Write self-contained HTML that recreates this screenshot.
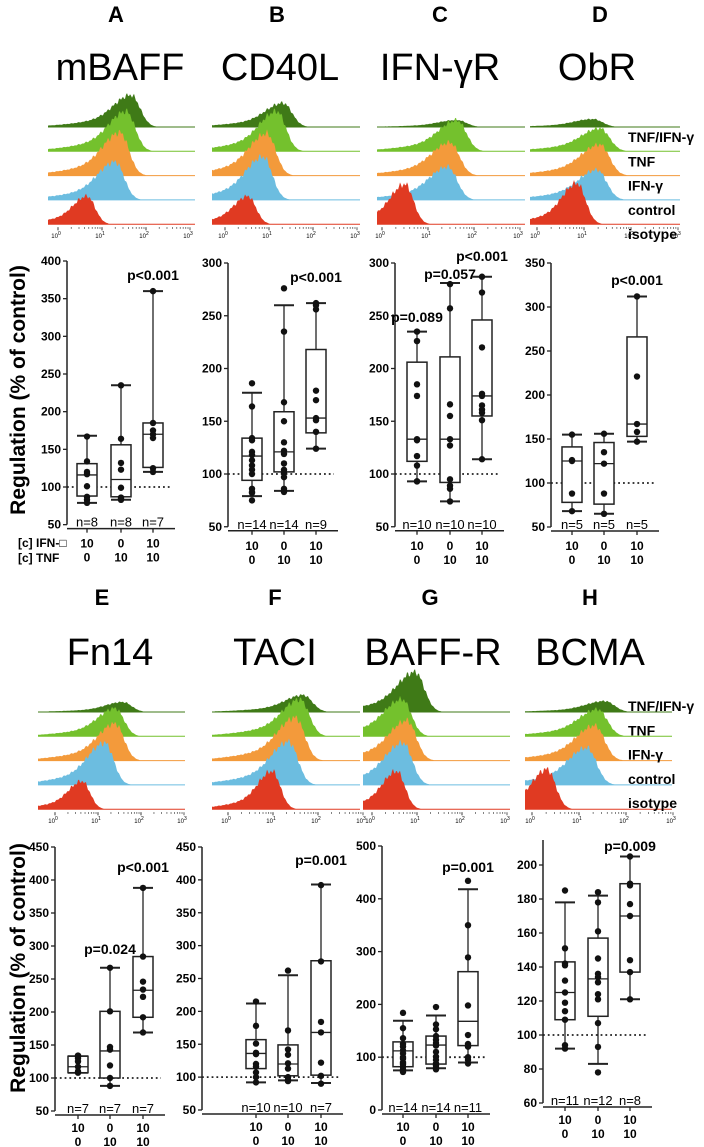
<!DOCTYPE html>
<html><head><meta charset="utf-8">
<style>
html,body{margin:0;padding:0;background:#fff;}
svg{display:block;}
text{font-family:"Liberation Sans",Arial,sans-serif;}
</style></head>
<body>
<svg id="fig" width="704" height="1147" viewBox="0 0 704 1147" xmlns="http://www.w3.org/2000/svg"></svg>
<script>
// ---------- DATA ----------
const panelLetters = ["A","B","C","D","E","F","G","H"];
const markerNames = ["mBAFF","CD40L","IFN-\u03B3R","ObR","Fn14","TACI","BAFF-R","BCMA"];
const conditionIFN = ["10","0","10"];
const conditionTNF = ["0","10","10"];
const histLabels = ["TNF/IFN-\u03B3","TNF","IFN-\u03B3","control","isotype"];

// box stats per panel: [whiskerLow, q1, median, q3, whiskerHigh]
const statsA = [[79,88,116,131,168],[83,87,110,156,235],[120,126,170,185,360]];
const statsB = [[79,94,117,134,177],[84,102,121,159,260],[124,139,153,218,262]];
const statsC = [[93,112,133,206,235],[74,92,133,211,281],[114,155,174,246,287]];
const statsD = [[68,78,125,141,155],[65,76,122,146,156],[147,153,167,266,312]];
const statsE = [[108,108,117,133,133],[88,100,141,201,267],[169,192,233,284,388]];
const statsF = [[92,113,136,157,212],[95,102,120,149,255],[91,103,168,277,393]];
const statsG = [[75,82,112,129,169],[79,87,123,140,179],[90,122,168,262,418]];
const statsH = [[92,109,125,143,178],[83,111,133,157,182],[121,137,170,189,205]];

const pointsA = [[167,134,120,117,101,87,83,79],[235,164,132,123,99,86,84,83],[360,185,175,170,165,125,120]];
const pointsB = [[186,164,134,132,121,118,113,108,104,100,86,83,82,75],[276,235,168,150,130,122,119,110,104,101,97,86,84,83],[262,256,179,170,153,151,140,124,260]];
const pointsC = [[235,226,185,174,133,132,117,108,93,93],[280,257,166,155,133,127,95,89,86,74],[287,272,220,176,174,165,161,158,151,114]];
const pointsD = [[155,126,125,88,68],[156,135,122,88,65],[312,221,167,158,147]];
const pointsE = [[134,133,130,125,117,110,108],[267,201,147,143,119,100,88],[388,284,246,234,223,192,169]];
const pointsF = [[215,178,151,137,135,120,116,107,100,92],[262,171,142,134,121,113,100,96,95,94],[392,276,184,168,122,102,90]];
const pointsG = [[184,155,136,125,120,113,107,100,97,90,87,82,77,72],[195,162,153,140,133,127,122,110,101,95,88,84,80,77],[434,350,289,198,142,125,122,120,100,95,88]];
const pointsH = [[185,151,142,141,132,125,119,114,109,94,92],[184,178,161,145,136,134,131,124,121,107,93,78],[205,189,188,177,170,144,137,121]];

const nA=[8,8,7], nB=[14,14,9], nC=[10,10,10], nD=[5,5,5], nE=[7,7,7], nF=[10,10,7], nG=[14,14,11], nH=[11,12,8];

const pvalA=[null,null,"p<0.001"], pvalB=[null,null,"p<0.001"], pvalC=["p=0.089","p=0.057","p<0.001"], pvalD=[null,null,"p<0.001"];
const pvalE=[null,"p=0.024","p<0.001"], pvalF=[null,null,"p=0.001"], pvalG=[null,null,"p=0.001"], pvalH=[null,null,"p=0.009"];

const yTicksA=[50,100,150,200,250,300,350,400];
const yTicksB=[50,100,150,200,250,300];
const yTicksC=[50,100,150,200,250,300];
const yTicksD=[50,100,150,200,250,300,350];
const yTicksE=[50,100,150,200,250,300,350,400,450];
const yTicksF=[50,100,150,200,250,300,350,400,450];
const yTicksG=[0,100,200,300,400,500];
const yTicksH=[60,80,100,120,140,160,180,200];

// histogram peaks (log10 position) and heights (px) per row: TNF/IFN, TNF, IFN, control, isotype
const histPeakA=[1.66,1.55,1.41,1.30,0.66], histHeightA=[32,40,43,38,28];
const histPeakB=[1.32,1.18,0.95,0.87,0.52], histHeightB=[24,40,42,43,28];
const histPeakC=[1.63,1.63,1.48,1.43,0.50], histHeightC=[7,31,33,33,40];
const histPeakD=[1.19,1.34,1.34,1.28,0.85], histHeightD=[8,23,31,30,41];
const histPeakE=[1.58,1.40,1.40,1.16,0.63], histHeightE=[10,28,37,42,28];
const histPeakF=[1.67,1.60,1.50,1.35,0.98], histHeightF=[17,37,43,43,38];
const histPeakG=[0.96,0.67,0.78,0.69,0.55], histHeightG=[40,37,40,42,38];
const histPeakH=[1.55,1.40,1.34,1.17,0.32], histHeightH=[11,27,35,37,40];

// ---------- LAYOUT ----------
const NS="http://www.w3.org/2000/svg";
const svg=document.getElementById("fig");
function mk(tag,attrs,parent){const e=document.createElementNS(NS,tag);for(const k in attrs)e.setAttribute(k,attrs[k]);(parent||svg).appendChild(e);return e;}
function txt(s,attrs,parent){const e=mk("text",attrs,parent);e.textContent=s;return e;}

const histColors=["#3f7a17","#74c12d","#f39a3b","#6cbde0","#e03a22"];
const stats=[statsA,statsB,statsC,statsD,statsE,statsF,statsG,statsH];
const points=[pointsA,pointsB,pointsC,pointsD,pointsE,pointsF,pointsG,pointsH];
const ns=[nA,nB,nC,nD,nE,nF,nG,nH];
const pvals=[pvalA,pvalB,pvalC,pvalD,pvalE,pvalF,pvalG,pvalH];
const yTicks=[yTicksA,yTicksB,yTicksC,yTicksD,yTicksE,yTicksF,yTicksG,yTicksH];
const hPeaks=[histPeakA,histPeakB,histPeakC,histPeakD,histPeakE,histPeakF,histPeakG,histPeakH];
const hHeights=[histHeightA,histHeightB,histHeightC,histHeightD,histHeightE,histHeightF,histHeightG,histHeightH];

const geo=[
 {lx:116,ly:22,tx:120,ty:80,hx0:48,hx1:195,d0:58,dec:44,hy:127,ax:67,bx:[87,121,153],v1:400,y1:261,v2:100,y2:487,pvy:[0,0,280],ro:[19,33]},
 {lx:277,ly:22,tx:280,ty:80,hx0:212,hx1:360,d0:225,dec:44,hy:127,ax:228,bx:[252,284,316],v1:300,y1:263,v2:100,y2:474,pvy:[0,0,282],ro:[19,33]},
 {lx:440,ly:22,tx:440,ty:80,hx0:377,hx1:525,d0:382,dec:46,hy:127,ax:395,bx:[417,450,482],v1:300,y1:263,v2:100,y2:474,pvy:[322,279,261],ro:[19,33]},
 {lx:600,ly:22,tx:597,ty:80,hx0:530,hx1:680,d0:537,dec:47,hy:127,ax:551,bx:[572,604,637],v1:350,y1:263,v2:100,y2:483,pvy:[0,0,285],ro:[19,33]},
 {lx:102,ly:605,tx:110,ty:665,hx0:38,hx1:185,d0:55,dec:43,hy:712,ax:55,bx:[78,110,143],v1:450,y1:847,v2:50,y2:1111,pvy:[0,954,872],ro:[17,31]},
 {lx:275,ly:605,tx:275,ty:665,hx0:212,hx1:360,d0:228,dec:45,hy:712,ax:202,bx:[256,288,321],v1:450,y1:847,v2:50,y2:1110,pvy:[0,0,865],ro:[17,31]},
 {lx:430,ly:605,tx:433,ty:665,hx0:363,hx1:510,d0:372,dec:45,hy:712,ax:382,bx:[403,436,468],v1:500,y1:846,v2:0,y2:1110,pvy:[0,0,872],ro:[17,31]},
 {lx:590,ly:605,tx:590,ty:665,hx0:525,hx1:672,d0:532,dec:47,hy:712,ax:543,bx:[565,598,630],v1:200,y1:865,v2:60,y2:1103,pvy:[0,0,851],axTop:840,ro:[17,31]}
];
const rowGap=24.3;

for(let p=0;p<8;p++){
  const g=geo[p];
  const grp=mk("g",{});
  
  
  const L=txt(panelLetters[p],{x:g.lx,y:g.ly,"font-size":22,"font-weight":"bold","text-anchor":"middle"},grp);
  
  
  const T=txt(markerNames[p],{x:g.tx,y:g.ty,"font-size":38,"text-anchor":"middle"},grp);
  
  

  const hg=mk("g",{},grp);
  
  
  const xOf=u=>g.d0+u*g.dec;
  const uOf=x=>(x-g.d0)/g.dec;
  for(let r=0;r<5;r++){
    const base=g.hy+r*rowGap;
    const pk=hPeaks[p][r], h=hHeights[p][r];
    const sL = r===4?0.3:0.38, sR = r===4?0.18:0.2;
    let d="M"+g.hx0+","+base;
    for(let x=g.hx0;x<=g.hx1;x+=1){
      const u=uOf(x);
      let f;
      if(u<pk){
        const dd=pk-u;
        f=h*(0.72*Math.exp(-dd*dd/(2*sL*sL))+0.28*Math.exp(-dd*dd/(2*(sL*2.6)*(sL*2.6))));
      } else {
        const dd=u-pk;
        f=h*Math.exp(-dd*dd/(2*sR*sR));
      }
      f*= (1+0.06*Math.sin(x*1.7)+0.04*Math.sin(x*0.9));
      if(f<0.6)f=0;
      d+=" L"+x+","+(base-f).toFixed(1);
    }
    d+=" L"+g.hx1+","+base+" Z";
    mk("line",{x1:g.hx0,y1:base,x2:g.hx1,y2:base,stroke:histColors[r],"stroke-width":1},hg);
    const path=mk("path",{d:d,fill:histColors[r],stroke:"none"},hg);
    
    
  }
  const tb=g.hy+4*rowGap+3;
  for(let dd=0;dd<3;dd++){
    for(let m=1;m<10;m++){
      const x=xOf(dd+Math.log10(m));
      mk("line",{x1:x,y1:tb,x2:x,y2:tb+(m===1?3:1.5),stroke:"#333","stroke-width":0.8},hg);
    }
  }
  for(let dd=0;dd<=3;dd++){
    const x=xOf(dd);
    mk("line",{x1:x,y1:tb,x2:x,y2:tb+3,stroke:"#333","stroke-width":0.8},hg);
    const t=txt("10",{x:x-2,y:tb+11,"font-size":6,"text-anchor":"middle"},hg);
    const sp=mk("tspan",{dy:-3,"font-size":5},t);sp.textContent=String(dd);
  }
}
for(const yo of [0,569]){
  for(let r=0;r<5;r++){
    const t=txt(histLabels[r],{x:628,y:142+yo+r*rowGap,"font-size":14,"font-weight":"bold"});
    
    
  }
}

for(let p=0;p<8;p++){
  const g=geo[p];
  const grp=mk("g",{});
  
  
  const k=(g.y2-g.y1)/(g.v2-g.v1);
  const y=v=>g.y1+(v-g.v1)*k;
  const ticks=yTicks[p];
  const yBot=y(ticks[0]), yTopAx=g.axTop||y(ticks[ticks.length-1]);
  mk("line",{x1:g.ax,y1:yTopAx,x2:g.ax,y2:yBot,stroke:"#222","stroke-width":1.5},grp);
  for(const t of ticks){
    mk("line",{x1:g.ax-4,y1:y(t),x2:g.ax,y2:y(t),stroke:"#222","stroke-width":1.3},grp);
    const tl=txt(String(t),{x:g.ax-6,y:y(t)+4,"font-size":12,"font-weight":"bold","text-anchor":"end"},grp);
    
    
  }
  const xAxY=yBot+4;
  mk("line",{x1:g.ax,y1:xAxY,x2:g.bx[2]+22,y2:xAxY,stroke:"#222","stroke-width":1.5},grp);
  mk("line",{x1:g.ax,y1:y(100),x2:g.bx[2]+18,y2:y(100),stroke:"#222","stroke-width":1.8,"stroke-dasharray":"1.8,3"},grp);
  for(let b=0;b<3;b++){
    const cx=g.bx[b], s=stats[p][b], w=10;
    mk("line",{x1:cx,y1:yBot+4,x2:cx,y2:yBot+8,stroke:"#222","stroke-width":1.3},grp);
    const bg=mk("g",{},grp);
    
    
    mk("line",{x1:cx,y1:y(s[0]),x2:cx,y2:y(s[1]),stroke:"#222","stroke-width":1.3},bg);
    mk("line",{x1:cx,y1:y(s[3]),x2:cx,y2:y(s[4]),stroke:"#222","stroke-width":1.3},bg);
    mk("line",{x1:cx-w,y1:y(s[0]),x2:cx+w,y2:y(s[0]),stroke:"#222","stroke-width":2},bg);
    mk("line",{x1:cx-w,y1:y(s[4]),x2:cx+w,y2:y(s[4]),stroke:"#222","stroke-width":2},bg);
    mk("rect",{x:cx-w,y:y(s[3]),width:2*w,height:Math.max(0.5,y(s[1])-y(s[3])),fill:"#fff",stroke:"#222","stroke-width":1.5},bg);
    mk("line",{x1:cx-w,y1:y(s[2]),x2:cx+w,y2:y(s[2]),stroke:"#222","stroke-width":1.3},bg);
    for(const v of points[p][b]){
      const c=mk("circle",{cx:cx,cy:y(v),r:3.2,fill:"#111"},bg);
      
      
    }
    const nt=txt("n="+ns[p][b],{x:cx,y:xAxY-2,"font-size":13,"text-anchor":"middle"},grp);
    
    
    const c1=txt(conditionIFN[b],{x:cx,y:xAxY+g.ro[0],"font-size":12,"font-weight":"bold","text-anchor":"middle"},grp);
    
    
    const c2=txt(conditionTNF[b],{x:cx,y:xAxY+g.ro[1],"font-size":12,"font-weight":"bold","text-anchor":"middle"},grp);
    
    
    if(pvals[p][b]){
      const pv=txt(pvals[p][b],{x:cx,y:g.pvy[b],"font-size":14,"font-weight":"bold","text-anchor":"middle"},grp);
      
      
    }
  }
}
const r1=txt("[c] IFN-\u25A1",{x:18,y:547,"font-size":12,"font-weight":"bold"});


const r2=txt("[c] TNF",{x:18,y:562,"font-size":12,"font-weight":"bold"});


for(const cy of [390,968]){
  const t=txt("Regulation (% of control)",{x:0,y:0,"font-size":21,"font-weight":"bold","text-anchor":"middle",transform:"translate(25,"+cy+") rotate(-90)"});
  
  
}
</script>
</body></html>
